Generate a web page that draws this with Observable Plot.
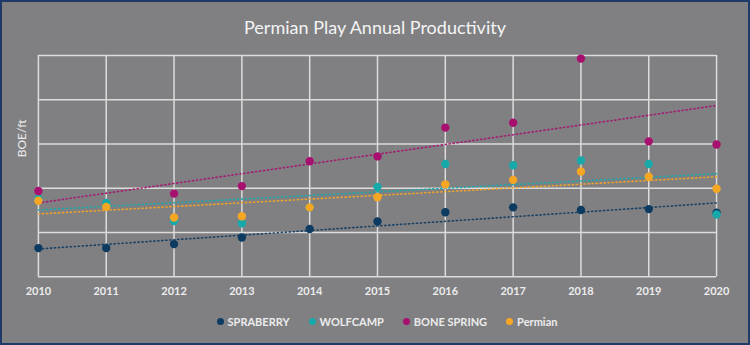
<!DOCTYPE html>
<html>
<head>
<meta charset="utf-8">
<script src="https://cdn.jsdelivr.net/npm/d3@7"></script>
<script src="https://cdn.jsdelivr.net/npm/@observablehq/plot@0.6"></script>
<style>
  html, body { margin: 0; padding: 0; background: #ffffff; }
  #frame {
    position: relative; width: 750px; height: 345px; box-sizing: border-box;
    background: #808083; border: 2px solid #1f3a68; overflow: hidden;
    font-family: Lato, "Open Sans", sans-serif;
  }
  #title {
    position: absolute; left: 0; right: 0; top: 14px; text-align: center;
    color: #f4f4f4; font-size: 18px; font-family: Lato, sans-serif;
  }
  #chart { position: absolute; left: -2px; top: 43px; }
  #legend {
    position: absolute; left: 0; right: 0; top: 313px; display: flex; justify-content: center;
    gap: 19px; color: #ececec; font-size: 11px; font-weight: 700; font-family: Lato, sans-serif;
    padding-left: 24px;
  }
  #legend span.item { display: flex; align-items: center; gap: 4px; }
  #legend span.sw { width: 7px; height: 7px; border-radius: 50%; display: inline-block; }
</style>
</head>
<body>
<div id="frame">
  <div id="title">Permian Play Annual Productivity</div>
  <div id="chart"></div>
  <div id="legend"></div>
</div>
<script>
const years = [2010, 2011, 2012, 2013, 2014, 2015, 2016, 2017, 2018, 2019, 2020];
const seriesNames = ["SPRABERRY", "WOLFCAMP", "BONE SPRING", "Permian"];
const seriesColors = ["#0c3a60", "#17a9a9", "#a8106f", "#f5a623"];

// values in BOE/ft (relative units; axis unlabeled)
const spraberry = [0.65, 0.65, 0.74, 0.89, 1.08, 1.25, 1.46, 1.57, 1.51, 1.53, 1.45];
const wolfcamp  = [1.77, 1.67, 1.26, 1.21, 1.57, 2.03, 2.55, 2.52, 2.63, 2.55, 1.41];
const boneSpring = [1.94, null, 1.88, 2.05, 2.61, 2.72, 3.37, 3.48, 4.93, 3.06, 2.99];
const permian   = [1.72, 1.58, 1.34, 1.37, 1.57, 1.80, 2.09, 2.19, 2.38, 2.26, 1.99];

// linear trend lines: value at first and last year
const trendStart = [0.63, 1.51, 1.67, 1.42];
const trendEnd   = [1.67, 2.33, 3.87, 2.26];

const gridY = [0, 1, 2, 3, 4, 5];

const allSeries = [spraberry, wolfcamp, boneSpring, permian];
const points = [];
allSeries.forEach((vals, s) => {
  vals.forEach((v, i) => {
    if (v != null) points.push({year: years[i], value: v, series: seriesNames[s]});
  });
});
const trends = [];
seriesNames.forEach((name, s) => {
  trends.push({year: years[0], value: trendStart[s], series: name});
  trends.push({year: years[years.length - 1], value: trendEnd[s], series: name});
});

const color = {domain: seriesNames, range: seriesColors};

const chart = Plot.plot({
  width: 750,
  height: 266,
  marginTop: 10,
  marginBottom: 34,
  marginLeft: 38,
  marginRight: 32,
  style: {background: "transparent", color: "#ececec", fontFamily: "Lato, sans-serif"},
  x: {domain: [2010, 2020], axis: null},
  y: {domain: [0, 5], axis: null},
  color,
  marks: [
    Plot.ruleY(gridY, {stroke: "#dcdcdc", strokeWidth: 1.5}),
    Plot.ruleX(years, {stroke: "#dcdcdc", strokeWidth: 1.5}),
    Plot.axisX(years, {tickSize: 0, tickFormat: d => String(d), fontWeight: "bold", fontSize: 11, fill: "#ececec", tickPadding: 10, anchor: "bottom", label: null}),
    Plot.text(["BOE/ft"], {frameAnchor: "left", rotate: -90, dx: -16, dy: -9, fill: "#ececec", fontSize: 12}),
    Plot.line(trends, {x: "year", y: "value", z: "series", stroke: "series", strokeWidth: 1.6, strokeDasharray: "1.2 2.8", strokeOpacity: 0.9}),
    Plot.dot(points, {x: "year", y: "value", fill: "series", r: 4.2})
  ]
});
document.getElementById("chart").appendChild(chart);

const legend = document.getElementById("legend");
seriesNames.forEach((name, i) => {
  const item = document.createElement("span");
  item.className = "item";
  const sw = document.createElement("span");
  sw.className = "sw";
  sw.style.background = seriesColors[i];
  item.appendChild(sw);
  item.appendChild(document.createTextNode(name));
  legend.appendChild(item);
});
</script>
</body>
</html>
